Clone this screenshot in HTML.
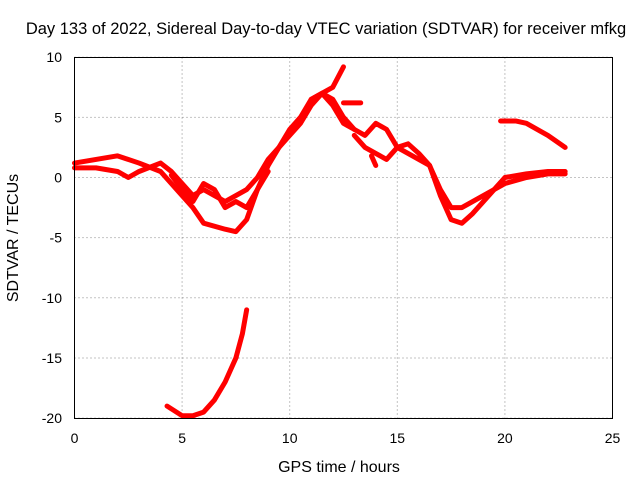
<!DOCTYPE html>
<html><head><meta charset="utf-8"><style>
body{margin:0;background:#fff}
svg{display:block;font-family:"Liberation Sans",sans-serif;font-size:14px}
</style></head><body>
<svg id="c" width="640" height="480">
<text x="326" y="34" text-anchor="middle" font-size="16.5">Day 133 of 2022, Sidereal Day-to-day VTEC variation (SDTVAR) for receiver mfkg</text>
<text x="339" y="472" text-anchor="middle" font-size="16">GPS time / hours</text>
<text transform="translate(18,238) rotate(-90)" text-anchor="middle" font-size="16">SDTVAR / TECUs</text>
<g id="grid"></g><g id="series"></g>
<rect x="74.5" y="57.5" width="538" height="361" fill="none" stroke="#000"/>
</svg>
<script>
const xTicks=[0,5,10,15,20,25];
const yTicks=[10,5,0,-5,-10,-15,-20];
const s1=[[0,1.2],[1,1.5],[2,1.8],[3,1.2],[4,0.5],[5,-1.5],[5.5,-2.5],[6,-3.8],[7,-4.3],[7.5,-4.5],[8,-3.5],[8.5,-1],[9,1],[9.5,2.5],[10,3.5],[10.5,4.5],[11,6],[11.5,7],[12,6.5],[12.5,5],[13,4]];
const s2=[[0,0.8],[1,0.8],[2,0.5],[2.5,0],[3,0.5],[4,1.2],[4.5,0.5],[5,-0.5],[5.5,-1.5],[6,-1],[6.5,-1.5],[7,-2],[7.5,-1.5],[8,-1],[8.5,0],[9,1.5],[9.5,2.5],[10,4],[10.5,5],[11,6.5],[11.5,7],[12,6],[12.5,4.5],[13,4],[13.5,3.5],[14,4.5],[14.5,4],[15,2.5],[15.5,2],[16,1.5],[16.5,1],[17,-1],[17.5,-2.5],[18,-2.5],[19,-1.5],[20,-0.5],[21,0],[22,0.3],[22.8,0.3]];
const s3=[[4.5,0.2],[5,-1],[5.5,-2],[6,-0.5],[6.5,-1],[7,-2.5],[7.5,-2],[8,-2.5],[8.5,-1],[9,0.5]];
const s4=[[11,6.5],[11.5,7],[12,7.5],[12.5,9.2]];
const s5=[[13,3.5],[13.5,2.5],[14,2],[14.5,1.5],[15,2.5],[15.5,2.8],[16,2],[16.5,1],[17,-1.5],[17.5,-3.5],[18,-3.8],[18.5,-3],[19,-2],[19.5,-1],[20,0],[21,0.3],[22,0.5],[22.8,0.5]];
const s6=[[19.8,4.7],[20.5,4.7],[21,4.5],[22,3.5],[22.8,2.5]];
const s7=[[4.3,-19],[5,-19.8],[5.5,-19.8],[6,-19.5],[6.5,-18.5],[7,-17],[7.5,-15],[7.8,-13],[8,-11]];
const s8=[[12.5,6.2],[13.3,6.2]];
const s9=[[13.8,1.8],[14,1]];
const allSeries=[s1,s2,s3,s4,s5,s6,s7,s8,s9];
const X=v=>74.5+v*21.52, Y=v=>177.5-v*12.03;
const ns="http://www.w3.org/2000/svg";
const g=document.getElementById('grid'), sg=document.getElementById('series');
xTicks.forEach(t=>{
 const l=document.createElementNS(ns,'line');
 l.setAttribute('x1',X(t));l.setAttribute('x2',X(t));l.setAttribute('y1',57.5);l.setAttribute('y2',418.5);
 l.setAttribute('stroke','#888');l.setAttribute('stroke-dasharray','1,3');
 
 
 g.appendChild(l);
 const tx=document.createElementNS(ns,'text');
 tx.setAttribute('x',X(t));tx.setAttribute('y',443);tx.setAttribute('text-anchor','middle');tx.textContent=t;
 
 
 g.appendChild(tx);
});
yTicks.forEach(t=>{
 const l=document.createElementNS(ns,'line');
 l.setAttribute('x1',74.5);l.setAttribute('x2',612.5);l.setAttribute('y1',Y(t));l.setAttribute('y2',Y(t));
 l.setAttribute('stroke','#888');l.setAttribute('stroke-dasharray','1,3');
 
 
 g.appendChild(l);
 const tx=document.createElementNS(ns,'text');
 tx.setAttribute('x',62);tx.setAttribute('y',Y(t)+5);tx.setAttribute('text-anchor','end');tx.textContent=t;
 
 
 g.appendChild(tx);
});
allSeries.forEach(s=>{
 const p=document.createElementNS(ns,'polyline');
 p.setAttribute('points',s.map(d=>X(d[0])+','+Y(d[1])).join(' '));
 p.setAttribute('fill','none');p.setAttribute('stroke','#f00');p.setAttribute('stroke-width','5');
 p.setAttribute('stroke-linejoin','round');p.setAttribute('stroke-linecap','round');
 
 
 sg.appendChild(p);
});
</script>
</body></html>
